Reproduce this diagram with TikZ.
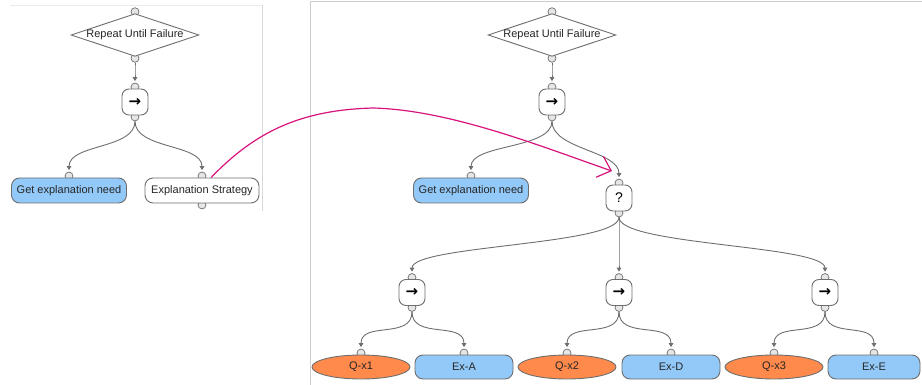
\documentclass[tikz,border=0pt]{standalone}
\usepackage{fontspec}
\setmainfont{Liberation Sans}
\newfontfamily\symfont{DejaVu Sans}
\usetikzlibrary{shapes.geometric, arrows.meta, calc, backgrounds}
\definecolor{leafblue}{HTML}{93C9F8}
\definecolor{condorange}{HTML}{FF8A4C}
\definecolor{edgegray}{HTML}{6E6E6E}
\definecolor{portgray}{HTML}{E6E6E6}
\definecolor{linkred}{HTML}{D9137C}
\tikzstyle{label}=[font=\fontsize{11}{13}\selectfont, text=black!85]
\tikzstyle{decorator}=[label, shape=diamond, aspect=3, minimum width=123pt, minimum height=40pt, inner sep=0pt, draw=edgegray, line width=0.9pt, fill=white]
\tikzstyle{composite}=[rectangle, rounded corners=7pt, minimum width=26pt, minimum height=26pt, inner sep=0pt, draw=edgegray, line width=0.9pt, fill=white]
\tikzstyle{action}=[label, rectangle, rounded corners=8pt, minimum width=98pt, minimum height=24pt, draw=edgegray, line width=0.9pt, fill=leafblue]
\tikzstyle{condition}=[label, ellipse, minimum width=98pt, minimum height=24pt, inner sep=0pt, draw=edgegray, line width=0.9pt, fill=condorange]
\tikzstyle{subtree}=[label, rectangle, rounded corners=8pt, minimum width=114pt, minimum height=25pt, draw=edgegray, line width=0.9pt, fill=white]
\tikzstyle{port}=[shape=circle, minimum size=8pt, inner sep=0, draw=edgegray, line width=0.7pt, fill=portgray]
\tikzstyle{edge}=[edgegray, line width=0.9pt, -{Triangle[length=4pt,width=4.5pt]}, shorten >=1.5pt]
\tikzstyle{link}=[linkred, line width=1.2pt, -{Straight Barb[length=12pt,width=22pt]}]
\tikzstyle{panel}=[black!20, line width=0.9pt]
\newcommand{\seqsym}{{\symfont\bfseries\fontsize{15}{15}\selectfont →}}
\newcommand{\selsym}{{\fontsize{14}{14}\selectfont ?}}

\begin{document}
\begin{tikzpicture}[x=1pt,y=-1pt]
\useasboundingbox (0,0) rectangle (922,385);
\draw[panel,black!8] (10,5)--(262,5);
\draw[panel,black!15] (262,5)--(262,211);
\draw[panel] (310,385)--(310,1)--(922,1);

\node[decorator] (rufL) at (135,35) {Repeat Until Failure};
\node[composite] (seqL) at (135,102) {\seqsym};
\node[action, minimum width=115pt, minimum height=25pt] (getL) at (69,190.5) {Get explanation need};
\node[subtree] (stratL) at (202,190.5) {Explanation Strategy};

\node[decorator] (rufR) at (552,35) {Repeat Until Failure};
\node[composite] (seqR) at (552,102) {\seqsym};
\node[action, minimum width=115pt, minimum height=25pt] (getR) at (471,190.5) {Get explanation need};
\node[composite] (selR) at (619,198) {\selsym};

\foreach \n/\x in {seqA/412,seqB/619,seqC/825}
	\node[composite] (\n) at (\x,292.5) {\seqsym};
\foreach \n/\x/\t in {qxA/361/Q-x1,qxB/567/Q-x2,qxC/774/Q-x3}
	\node[condition] (\n) at (\x,367) {\t};
\foreach \n/\x/\t in {exA/464/Ex-A,exD/671/Ex-D}
	\node[action] (\n) at (\x,367) {\t};
\node[action, minimum width=92pt] (exE) at (874,367) {Ex-E};

\begin{pgfonlayer}{background}
\foreach \n in {rufL,seqL,getL,stratL,rufR,seqR,getR,selR,seqA,seqB,seqC,qxA,exA,qxB,exD,qxC,exE}
	\node[port] (\n-t) at ([yshift=1.5pt]\n.north) {};
\foreach \n in {rufL,seqL,stratL,rufR,seqR,selR,seqA,seqB,seqC}
	\node[port] (\n-b) at ([yshift=-1.5pt]\n.south) {};
\end{pgfonlayer}

\foreach \p/\c in {rufL/seqL,seqL/getL,seqL/stratL,rufR/seqR,seqR/getR,seqR/selR,selR/seqA,selR/seqB,selR/seqC,seqA/qxA,seqA/exA,seqB/qxB,seqB/exD,seqC/qxC,seqC/exE}
	\draw[edge] (\p-b.south) .. controls +(0,28) and +(0,-28) .. (\c-t.north);

\coordinate (hit) at ($(selR-t)+(-7,-12)$);
\draw[link] (stratL.55) .. controls (255,132) and (300,110) .. (373,108) .. controls (450,110) and (540,146) .. (hit);
\end{tikzpicture}
\end{document}
